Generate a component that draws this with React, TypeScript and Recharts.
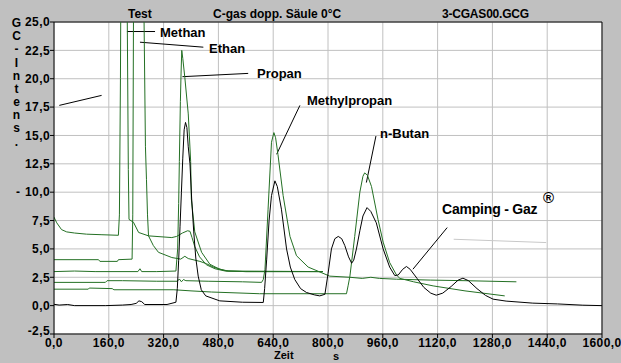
import React from 'react';
import { LineChart, Line, XAxis, YAxis, CartesianGrid, ReferenceLine } from 'recharts';

// Chromatogramm C-gas, doppelte Säule 0°C — Testgase (grün) und Camping-Gaz (schwarz)

type Pt = [number, number];

const xTicks = [0, 160, 320, 480, 640, 800, 960, 1120, 1280, 1440, 1600];
const yTicks = [-2.5, 0, 2.5, 5, 7.5, 10, 12.5, 15, 17.5, 20, 22.5, 25];

const methan: Pt[] = [
  [0, 7.8], [8, 7.3], [22, 6.7], [37, 6.5], [60, 6.4], [95, 6.3], [140, 6.25], [188, 6.2],
  [191, 8], [194, 20], [197, 40], [205, 60], [211, 40], [214, 25], [217, 12], [219, 7.6],
  [232, 7.35], [247, 6.45], [276, 6.15], [344, 6.0], [358, 6.1], [375, 6.4], [390, 6.6],
  [397, 6.55], [403, 6.0], [411, 5.2], [425, 4.3], [445, 3.6], [470, 3.25], [500, 3.05],
  [560, 3.0], [785, 3.0],
];

const ethan: Pt[] = [
  [0, 4.05], [130, 4.05], [134, 3.9], [185, 3.9], [188, 4.05], [228, 4.1], [230, 8], [232, 25],
  [240, 70], [255, 60], [263, 25], [267, 14], [270, 11.1], [273, 8], [276, 6.15], [290, 5.3],
  [305, 4.7], [344, 4.24], [370, 4.1], [382, 4.35], [392, 4.15], [426, 3.9], [445, 3.7],
  [465, 3.4], [503, 3.06], [560, 3.0], [785, 3.0],
];

const propan: Pt[] = [
  [0, 3.0], [60, 3.05], [120, 3.0], [245, 3.0], [251, 3.25], [256, 3.0], [300, 3.0], [356, 3.05],
  [361, 5], [364, 9], [366, 12.7], [369, 18], [371, 20.5], [373, 22.5], [376, 21.8], [382, 20.1],
  [392, 16.9], [399, 12.7], [401, 9.4], [411, 6.5], [431, 4.7], [455, 3.65], [484, 3.2],
  [510, 3.05], [785, 3.0],
];

const methylpropan: Pt[] = [
  [0, 2.05], [150, 2.05], [155, 2.2], [200, 2.2], [300, 2.15], [360, 2.15], [366, 2.35], [372, 2.1],
  [378, 2.3], [385, 2.2], [450, 2.15], [550, 2.1], [606, 2.05], [611, 2.3], [616, 3.2], [625, 8.5],
  [635, 14.4], [642, 15.25], [647, 14.8], [654, 13.3], [669, 9.7], [689, 6.1], [708, 4.4],
  [742, 3.4], [805, 2.6], [864, 2.5], [900, 2.4], [925, 2.5], [950, 2.4], [1000, 2.33],
  [1100, 2.25], [1200, 2.2], [1350, 2.1],
];

const nbutan: Pt[] = [
  [0, 1.45], [100, 1.45], [103, 1.55], [170, 1.5], [175, 1.4], [350, 1.4], [400, 1.3], [460, 1.2],
  [600, 1.05], [854, 1.05], [859, 1.8], [864, 2.6], [878, 6.1], [893, 10.0], [902, 11.4],
  [907, 11.7], [915, 11.5], [927, 10.5], [946, 7.6], [961, 5.6], [980, 3.8], [1000, 2.7],
  [1010, 2.4], [1050, 2.1], [1107, 1.74], [1200, 1.3], [1316, 0.86],
];

const campingGaz: Pt[] = [
  [0, 0.12], [15, 0.05], [40, 0.1], [60, 0.0], [150, 0.0], [200, 0.05], [225, 0.1], [240, 0.2],
  [248, 0.42], [256, 0.35], [265, 0.1], [330, 0.1], [356, 0.3], [360, 1.5], [364, 4], [368, 7],
  [372, 10], [376, 13], [380, 15.5], [384, 16.15], [388, 15.7], [392, 14], [397, 12.5],
  [402, 9.4], [408, 6.5], [414, 4.2], [421, 2.6], [430, 1.4], [443, 0.86], [484, 0.42],
  [550, 0.3], [611, 0.28], [615, 1.5], [621, 4.1], [628, 7.5], [635, 9.7], [645, 11.0],
  [652, 10.5], [664, 8.5], [679, 5.0], [690, 3.4], [703, 2.3], [720, 1.5], [737, 1.16],
  [760, 0.95], [776, 0.86], [791, 1.0], [800, 2.8], [810, 5.0], [820, 5.9], [830, 6.1],
  [840, 5.9], [849, 5.3], [860, 4.3], [869, 3.74], [875, 4.0], [883, 5.0], [893, 6.6],
  [902, 7.9], [914, 8.64], [925, 8.3], [941, 7.3], [961, 5.0], [980, 3.4], [995, 2.65],
  [1005, 2.7], [1018, 3.2], [1029, 3.45], [1040, 3.2], [1060, 2.4], [1080, 1.6], [1100, 1.1],
  [1116, 0.92], [1135, 1.1], [1160, 1.7], [1180, 2.25], [1194, 2.42], [1210, 2.2], [1235, 1.5],
  [1260, 0.9], [1282, 0.57], [1320, 0.4], [1398, 0.22], [1470, 0.15], [1544, 0.04], [1600, 0.0],
];

// Zeiger der Peak-Beschriftungen (in Zeit / Intensität)
const pointers: [Pt, Pt][] = [
  [[15.5, 17.65], [139, 18.53]],
  [[213, 24.16], [295, 24.16]],
  [[251, 23.22], [436, 22.78]],
  [[375, 20.18], [567, 20.47]],
  [[650, 13.34], [718, 17.65]],
  [[912, 10.85], [940, 14.95]],
  [[1048, 3.21], [1148, 6.88]],
];

const GREEN = '#247024';
const FONT = "'Liberation Sans', Arial, sans-serif";

const toRows = (pts: Pt[]) => pts.map(([t, v]) => ({ t, v }));

const fmt = (n: number) => n.toFixed(1).replace('.', ',');

const tickStyle = { fill: '#000', fontSize: 12, fontWeight: 'bold', fontFamily: FONT, letterSpacing: 0.4 };

// der unterste Wert sitzt etwas höher, damit er nicht an "0,0" stößt
function YTick(props: any) {
  const { x, y, payload } = props;
  const low = payload.value === -2.5;
  return (
    <text x={x} y={y} dy={low ? '0.05em' : '0.355em'} textAnchor="end" {...tickStyle}>
      {fmt(payload.value)}
    </text>
  );
}

type TxtProps = { x: number; y: number; size?: number; lh?: number; spacing?: number; children: React.ReactNode };

function Txt({ x, y, size = 12, lh, spacing = 0, children }: TxtProps) {
  const h = lh ?? size + 2;
  return (
    <div
      style={{
        position: 'absolute',
        left: x,
        top: y - h / 2,
        fontSize: size,
        lineHeight: `${h}px`,
        fontWeight: 'bold',
        fontFamily: FONT,
        whiteSpace: 'nowrap',
        letterSpacing: spacing,
        color: '#000',
      }}
    >
      {children}
    </div>
  );
}

const yLetters = ['G', 'C', '-', 'I', 'n', 't', 'e', 'n', 's', '.'];
const yLetterPos = [23, 36, 49, 63, 76, 89, 102, 115, 128, 142];

export default function App() {
  return (
    <div style={{ position: 'fixed', left: 0, top: 0, width: 621, height: 363, background: '#c0c0c0', overflow: 'hidden' }}>
      <LineChart width={621} height={363} margin={{ top: 22, right: 19, bottom: 4, left: 4 }}>
        <CartesianGrid stroke="#c0c0c0" fill="#ffffff" fillOpacity={1} />
        <XAxis
          type="number"
          dataKey="t"
          domain={[0, 1600]}
          ticks={xTicks}
          tickFormatter={fmt}
          height={25}
          tickSize={4}
          tickMargin={0}
          stroke="#000"
          tick={tickStyle}
          interval={0}
          allowDataOverflow
        />
        <YAxis
          type="number"
          domain={[-2.5, 25]}
          ticks={yTicks}
          width={50}
          tickSize={4}
          tickMargin={0}
          stroke="#000"
          tick={<YTick />}
          interval={0}
          allowDataOverflow
        />
        <ReferenceLine y={25} stroke="#000" />
        <ReferenceLine x={1600} stroke="#000" />
        <ReferenceLine segment={[{ x: 1167, y: 5.85 }, { x: 1437, y: 5.56 }]} stroke="#c8c8c8" ifOverflow="visible" />
        {pointers.map(([a, b], i) => (
          <ReferenceLine key={i} segment={[{ x: a[0], y: a[1] }, { x: b[0], y: b[1] }]} stroke="#000" ifOverflow="visible" />
        ))}
        <Line data={toRows(methan)} dataKey="v" stroke={GREEN} dot={false} strokeWidth={1} isAnimationActive={false} />
        <Line data={toRows(ethan)} dataKey="v" stroke={GREEN} dot={false} strokeWidth={1} isAnimationActive={false} />
        <Line data={toRows(propan)} dataKey="v" stroke={GREEN} dot={false} strokeWidth={1} isAnimationActive={false} />
        <Line data={toRows(methylpropan)} dataKey="v" stroke={GREEN} dot={false} strokeWidth={1} isAnimationActive={false} />
        <Line data={toRows(nbutan)} dataKey="v" stroke={GREEN} dot={false} strokeWidth={1} isAnimationActive={false} />
        <Line data={toRows(campingGaz)} dataKey="v" stroke="#000" dot={false} strokeWidth={1} isAnimationActive={false} />
      </LineChart>

      <Txt x={128} y={14}>Test</Txt>
      <Txt x={213} y={14}>C-gas dopp. Säule 0°C</Txt>
      <Txt x={442} y={14} spacing={-0.2}>3-CGAS00.GCG</Txt>

      {yLetters.map((l, i) => (
        <div
          key={i}
          style={{ position: 'absolute', left: 10, width: 13, textAlign: 'center', top: yLetterPos[i] - 7, fontSize: 12, lineHeight: '14px', fontWeight: 'bold', fontFamily: FONT }}
        >
          {l}
        </div>
      ))}
      <Txt x={16} y={192}>-</Txt>

      <Txt x={160} y={32} size={13}>Methan</Txt>
      <Txt x={209} y={48} size={13}>Ethan</Txt>
      <Txt x={257} y={73} size={13}>Propan</Txt>
      <Txt x={307} y={100} size={13}>Methylpropan</Txt>
      <Txt x={380} y={133} size={13}>n-Butan</Txt>
      <Txt x={442} y={209} size={14} spacing={-0.2}>Camping - Gaz</Txt>
      <Txt x={543} y={197} size={15}>®</Txt>

      <Txt x={274} y={355} size={11} lh={11}>Zeit</Txt>
      <Txt x={333} y={356} size={11} lh={11}>s</Txt>
    </div>
  );
}
